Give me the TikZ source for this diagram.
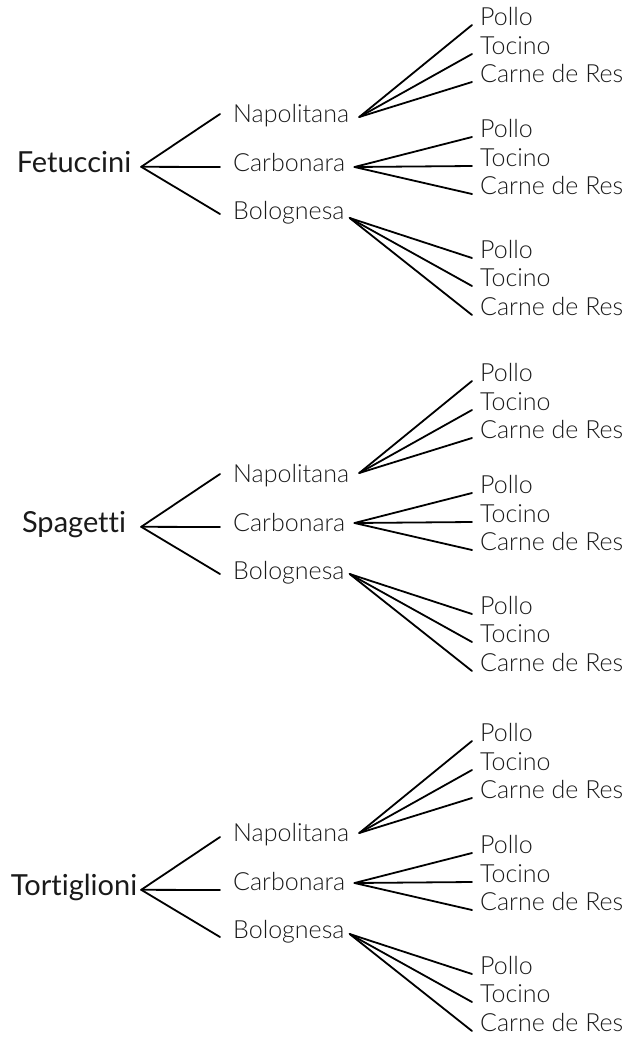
\documentclass[tikz,border=0pt]{standalone}
\usepackage{fontspec}
\setmainfont{Lato}[Ligatures={NoCommon}]
\newfontfamily\lightfont{Lato Light}[Ligatures={NoCommon}]
\newfontfamily\regfont{Lato}[Ligatures={NoCommon}]
\definecolor{ink}{HTML}{1A1A1A}
\tikzset{
  link/.style={line width=1.8pt, line cap=round, black},
  rootlbl/.style={font=\regfont\fontsize{29pt}{33pt}\selectfont, text=ink, inner sep=0pt,
    text height=12pt, text depth=0pt, minimum width=134pt, anchor=south},
  midlbl/.style={font=\lightfont\fontsize{25pt}{29pt}\selectfont, text=ink, inner sep=0pt,
    text depth=0pt, anchor=south west},
  leaflbl/.style={font=\lightfont\fontsize{25pt}{29pt}\selectfont, text=ink, inner sep=0pt,
    text depth=0pt, anchor=south west}
}
\begin{document}
\begin{tikzpicture}[x=1pt,y=-1pt]
\useasboundingbox (0,0) rectangle (624,1039);
\foreach \g/\name/\R/\M/\L in {a/Fetuccini/167/0/0, b/Spagetti/527/360/356, c/Tortiglioni/890/719/716} {
  \node[rootlbl] (\g-root) at (74,\R+6) {\name};
  \foreach \m/\txt/\mb/\d/\jy/\jx/\pa/\pb/\pc in {
      n/Napolitana/123/-53/117/10/26/55/83,
      c/Carbonara/172/0/167/9/138/167/195,
      b/Bolognesa/220/47/218/5/259/287/316} {
    \pgfmathsetmacro\up{(\mb+\M)-(\jy+\L)}
    \pgfmathsetmacro\lu{(\mb+\M)-(\R+\d)}
    \node[midlbl] (\g-\m) at (233,\mb+\M) {\txt};
    \draw[link] (\g-root.east) -- ([xshift=-13pt,yshift=\lu pt]\g-\m.south west);
    \node[leaflbl] (\g-\m-1) at (480,\pa+\L) {Pollo};
    \node[leaflbl] (\g-\m-2) at (480,\pb+\L) {Tocino};
    \node[leaflbl] (\g-\m-3) at (480,\pc+\L) {Carne de Res};
    \foreach \k in {1,2,3} {
      \draw[link] ([xshift=\jx pt,yshift=\up pt]\g-\m.south east) -- ([xshift=-8pt,yshift=1pt]\g-\m-\k.south west);
    }
  }
}
\end{tikzpicture}
\end{document}
